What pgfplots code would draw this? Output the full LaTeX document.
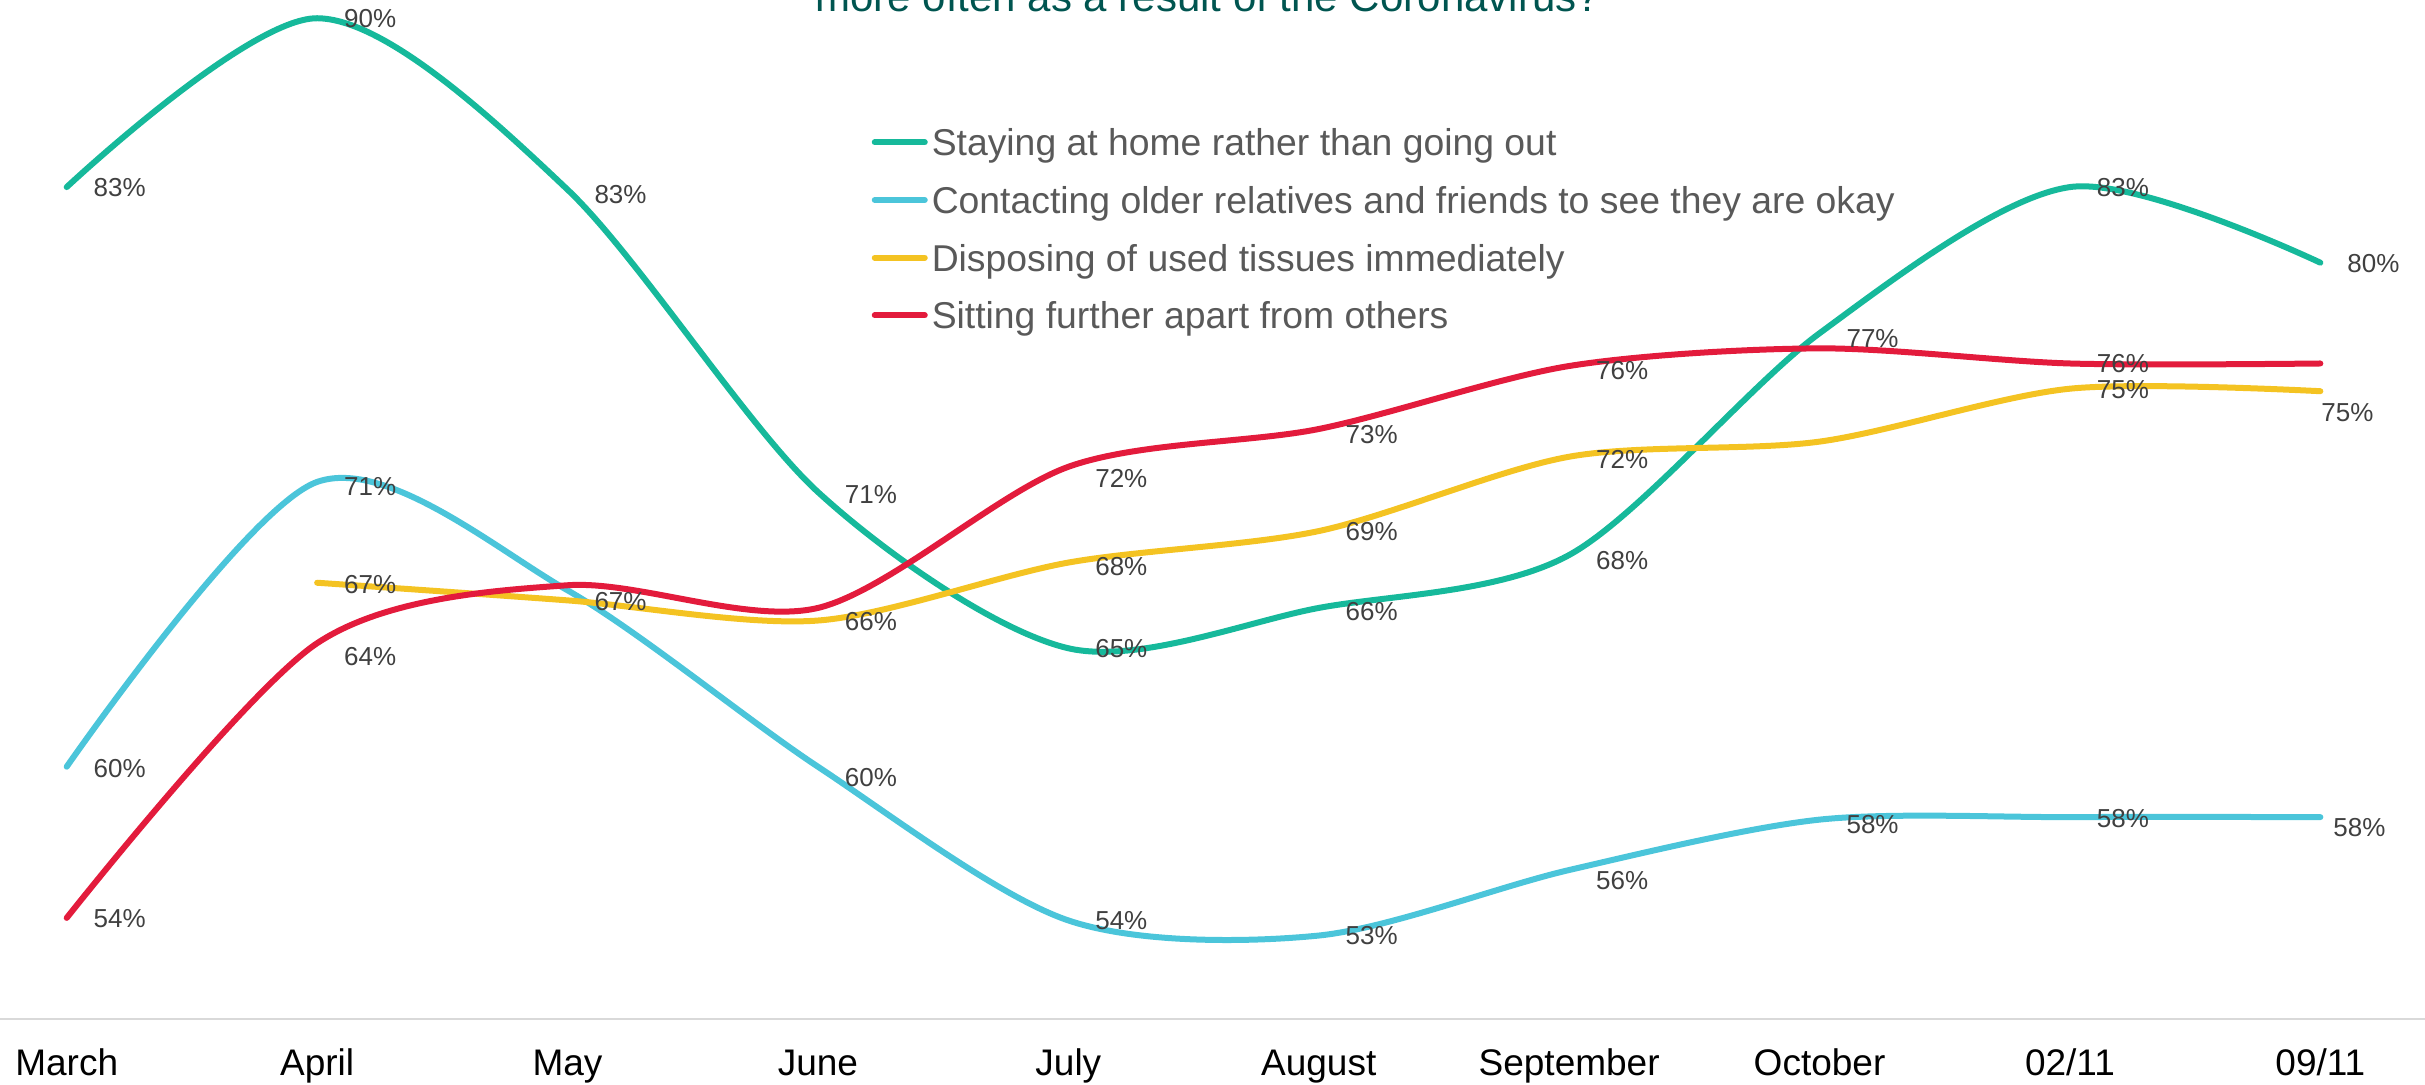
\documentclass[border=0pt]{standalone}
\usepackage{fontspec}
\setmainfont{Liberation Sans}
\usepackage{pgfplots}
\pgfplotsset{compat=1.18}
\usepackage{pgfplotstable}

\definecolor{cteal}{RGB}{22,185,155}
\definecolor{ccyan}{RGB}{75,197,218}
\definecolor{cyellow}{RGB}{244,195,34}
\definecolor{cred}{RGB}{227,27,60}
\definecolor{ctitle}{RGB}{0,85,80}
\definecolor{clabel}{RGB}{64,64,64}
\definecolor{clegend}{RGB}{89,89,89}
\definecolor{caxis}{RGB}{217,217,217}

\pgfplotstableread{
x y
0 83.0
1 89.7
2 82.9
3 70.9
4 64.7
5 66.3
6 68.4
7 77.2
8 83.0
9 80.0
}\staying

\pgfplotstableread{
x y
0 60.0
1 71.3
2 67.0
3 60.0
4 53.9
5 53.3
6 55.9
7 57.9
8 58.0
9 58.0
}\contacting

\pgfplotstableread{
x y
1 67.3
2 66.6
3 65.8
4 68.1
5 69.35
6 72.3
7 72.9
8 75.0
9 74.9
}\disposing

\pgfplotstableread{
x y
0 54.0
1 64.9
2 67.2
3 66.3
4 71.9
5 73.4
6 75.9
7 76.6
8 76.0
9 76.0
}\sitting

% data labels: x, value, label text, x offset (px), y offset (px, downwards)
\pgfplotstableread{
x y lbl dx dy
0 83.0 83 24 0
1 89.7 90 24 0
2 82.9 83 24 5
3 70.9 71 24 3
4 64.7 65 24 0
5 66.3 66 24 4
6 68.4 68 24 6
7 77.2 77 24 5
8 83.0 83 24 0
9 80.0 80 24 1
0 60.0 60 24 2
1 71.3 71 24 5
3 60.0 60 24 11
4 53.9 54 24 0
5 53.3 53 24 0
6 55.9 56 24 11
7 57.9 58 24 5
8 58.0 58 24 1
9 58.0 58 10 10
1 67.3 67 24 2
2 66.6 67 24 1
3 65.8 66 24 1
4 68.1 68 24 4
5 69.35 69 24 0
6 72.3 72 24 3
8 75.0 75 24 1
9 74.9 75 -2 21
0 54.0 54 24 1
1 64.9 64 24 13
4 71.9 72 24 12
5 73.4 73 24 6
6 75.9 76 24 5
8 76.0 76 24 0
}\labels

\begin{document}
\begin{tikzpicture}
\begin{axis}[
  scale only axis,
  width=727.5pt, height=325.5pt,
  xmin=-0.2664, xmax=9.418,
  ymin=47.37, ymax=90.425,
  clip=false,
  axis line style={draw=none},
  ytick=\empty,
  xtick={0,...,9},
  xticklabels={March,April,May,June,July,August,September,October,02/11,09/11},
  major tick length=0pt,
  xtick style={draw=none},
  xticklabel style={anchor=base, yshift=2.7pt, font=\fontsize{11.1}{13}\selectfont, text=black},
  every axis plot/.append style={line width=1.8pt, line cap=round, smooth, tension=0.5, mark=none},
  legend image code/.code={\draw[#1, line width=1.8pt, line cap=round] (0.9pt,0pt) -- (15.9pt,0pt);},
  legend cell align=left,
  legend style={
    at={(0.3592,0.8818)}, anchor=north west,
    draw=none, fill=none, inner sep=0pt,
    column sep=1.2pt, row sep=9.2pt,
    font=\fontsize{11.2}{13}\selectfont, text=clegend,
    nodes={inner sep=0pt, text height=8.1pt, text depth=0pt}
  },
]
\draw[caxis, line width=0.6pt] (axis cs:-0.2664,50) -- (axis cs:9.418,50);

\addplot[cteal] table[x=x,y=y] {\staying};
\addlegendentry{Staying at home rather than going out}
\addplot[ccyan] table[x=x,y=y] {\contacting};
\addlegendentry{Contacting older relatives and friends to see they are okay}
\addplot[cyellow] table[x=x,y=y] {\disposing};
\addlegendentry{Disposing of used tissues immediately}
\addplot[cred] table[x=x,y=y] {\sitting};
\addlegendentry{Sitting further apart from others}

\addplot[draw=none, forget plot, sharp plot,
  point meta=explicit symbolic,
  visualization depends on={\thisrow{dx} \as \dx},
  visualization depends on={\thisrow{dy} \as \dy},
  nodes near coords={\pgfplotspointmeta\%},
  every node near coord/.append style={anchor=west, inner sep=0pt,
    font=\fontsize{7.8}{9}\selectfont, text=clabel,
    xshift={\dx*0.3pt}, yshift={-\dy*0.3pt}},
] table[x=x,y=y,meta=lbl] {\labels};

\node[anchor=base, font=\fontsize{12.6}{15}\selectfont, text=ctitle]
  at (rel axis cs:0.498,0.9890) {more often as a result of the Coronavirus?};

\coordinate (bl) at (rel axis cs:0,0);
\coordinate (tr) at (rel axis cs:1,1);
\end{axis}
\pgfresetboundingbox
\useasboundingbox (bl) rectangle (tr);
\end{tikzpicture}
\end{document}
